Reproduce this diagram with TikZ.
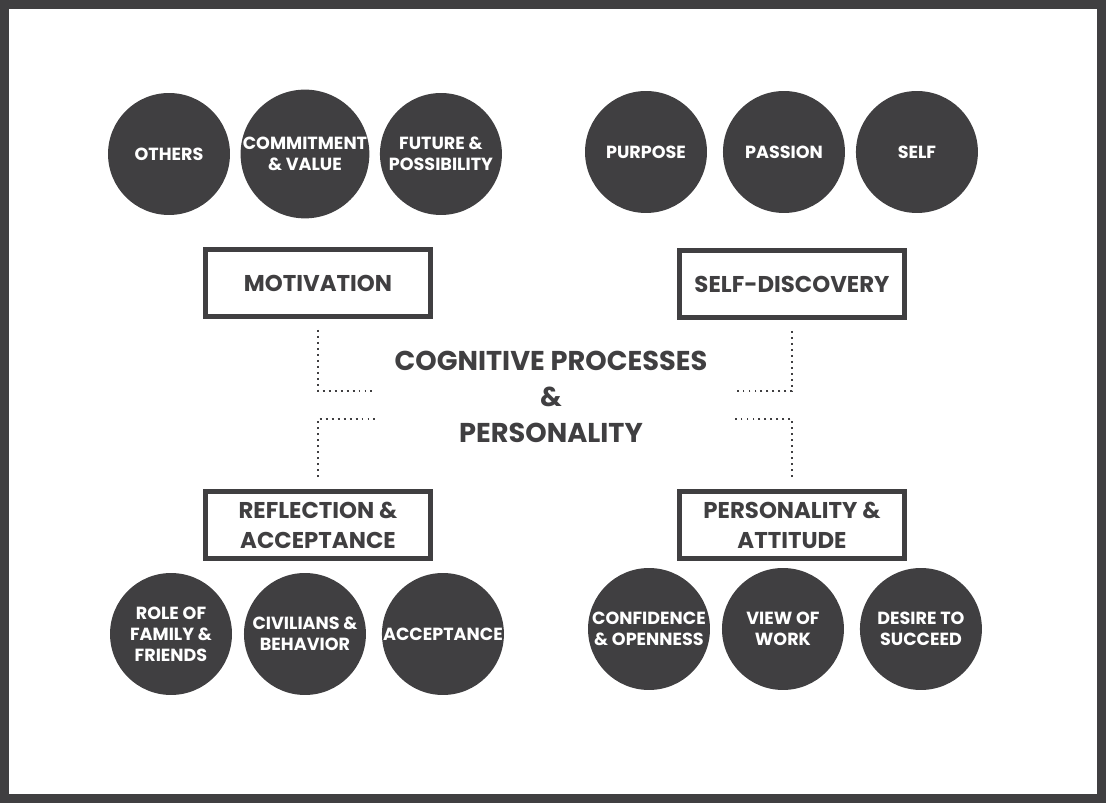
\documentclass[tikz,border=0pt]{standalone}
\usepackage{fontspec}
\setmainfont{Poppins}
\usepackage{tikz}
\usetikzlibrary{positioning}
\definecolor{ink}{HTML}{403F41}
\tikzset{bubble/.style={circle,fill=ink,text=white,minimum size=2.44cm,inner sep=0pt,align=center,font=\fontsize{10}{12}\selectfont\bfseries}}
\tikzset{topic/.style={draw=ink,line width=0.1cm,minimum width=4.5cm,minimum height=1.34cm,inner sep=0pt,align=center,text=ink,font=\fontsize{13}{17}\selectfont\bfseries}}
\tikzset{link/.style={ink,line width=1.1pt,dash pattern=on 1.1pt off 2.3pt}}

\begin{document}
\begin{tikzpicture}[x=0.02cm,y=-0.02cm,node distance=2.72cm]
    \useasboundingbox (0,0) rectangle (1106,803);
    \draw[ink,line width=0.18cm] (4.5,4.5) rectangle (1101.5,798.5);
    % top row
    \node (others) [bubble] at (169,154) {OTHERS};
    \node (commit) [bubble,right of=others] {COMMITMENT\\\& VALUE};
    \node (future) [bubble,right of=commit] {FUTURE \&\\POSSIBILITY};
    \node (purpose) [bubble] at (646,152) {PURPOSE};
    \node (passion) [bubble,right of=purpose,node distance=2.76cm] {PASSION};
    \node (self) [bubble,right of=passion,node distance=2.66cm] {SELF};
    % the four topics
    \node (mot) [topic] at (318,283) {MOTIVATION};
    \node (disc) [topic] at (792,284) {SELF-DISCOVERY};
    \node (refl) [topic] at (318,525) {REFLECTION \&\\ACCEPTANCE};
    \node (pers) [topic] at (792,525) {PERSONALITY \&\\ATTITUDE};
    \node (core) [align=center,text=ink,font=\fontsize{15.5}{20.5}\selectfont\bfseries] at (551,397) {COGNITIVE PROCESSES\\\&\\PERSONALITY};
    % bottom row
    \node (role) [bubble] at (171,634) {ROLE OF\\FAMILY \&\\FRIENDS};
    \node (civil) [bubble,right of=role,node distance=2.68cm] {CIVILIANS \&\\BEHAVIOR};
    \node (accept) [bubble,right of=civil,node distance=2.76cm] {ACCEPTANCE};
    \node (conf) [bubble] at (649,629) {CONFIDENCE\\\& OPENNESS};
    \node (work) [bubble,right of=conf,node distance=2.68cm] {VIEW OF\\WORK};
    \node (desire) [bubble,right of=work,node distance=2.76cm] {DESIRE TO\\SUCCEED};
    % dotted links to the centre
    \coordinate (mend) at (376,391);
    \coordinate (dend) at (733,391);
    \coordinate (rend) at (376,419);
    \coordinate (pend) at (733,419);
    \draw[link] (mot.south) ++(0,11) |- (mend);
    \draw[link] (disc.south) ++(0,11) |- (dend);
    \draw[link] (refl.north) ++(0,-12) |- (rend);
    \draw[link] (pers.north) ++(0,-12) |- (pend);
\end{tikzpicture}
\end{document}
